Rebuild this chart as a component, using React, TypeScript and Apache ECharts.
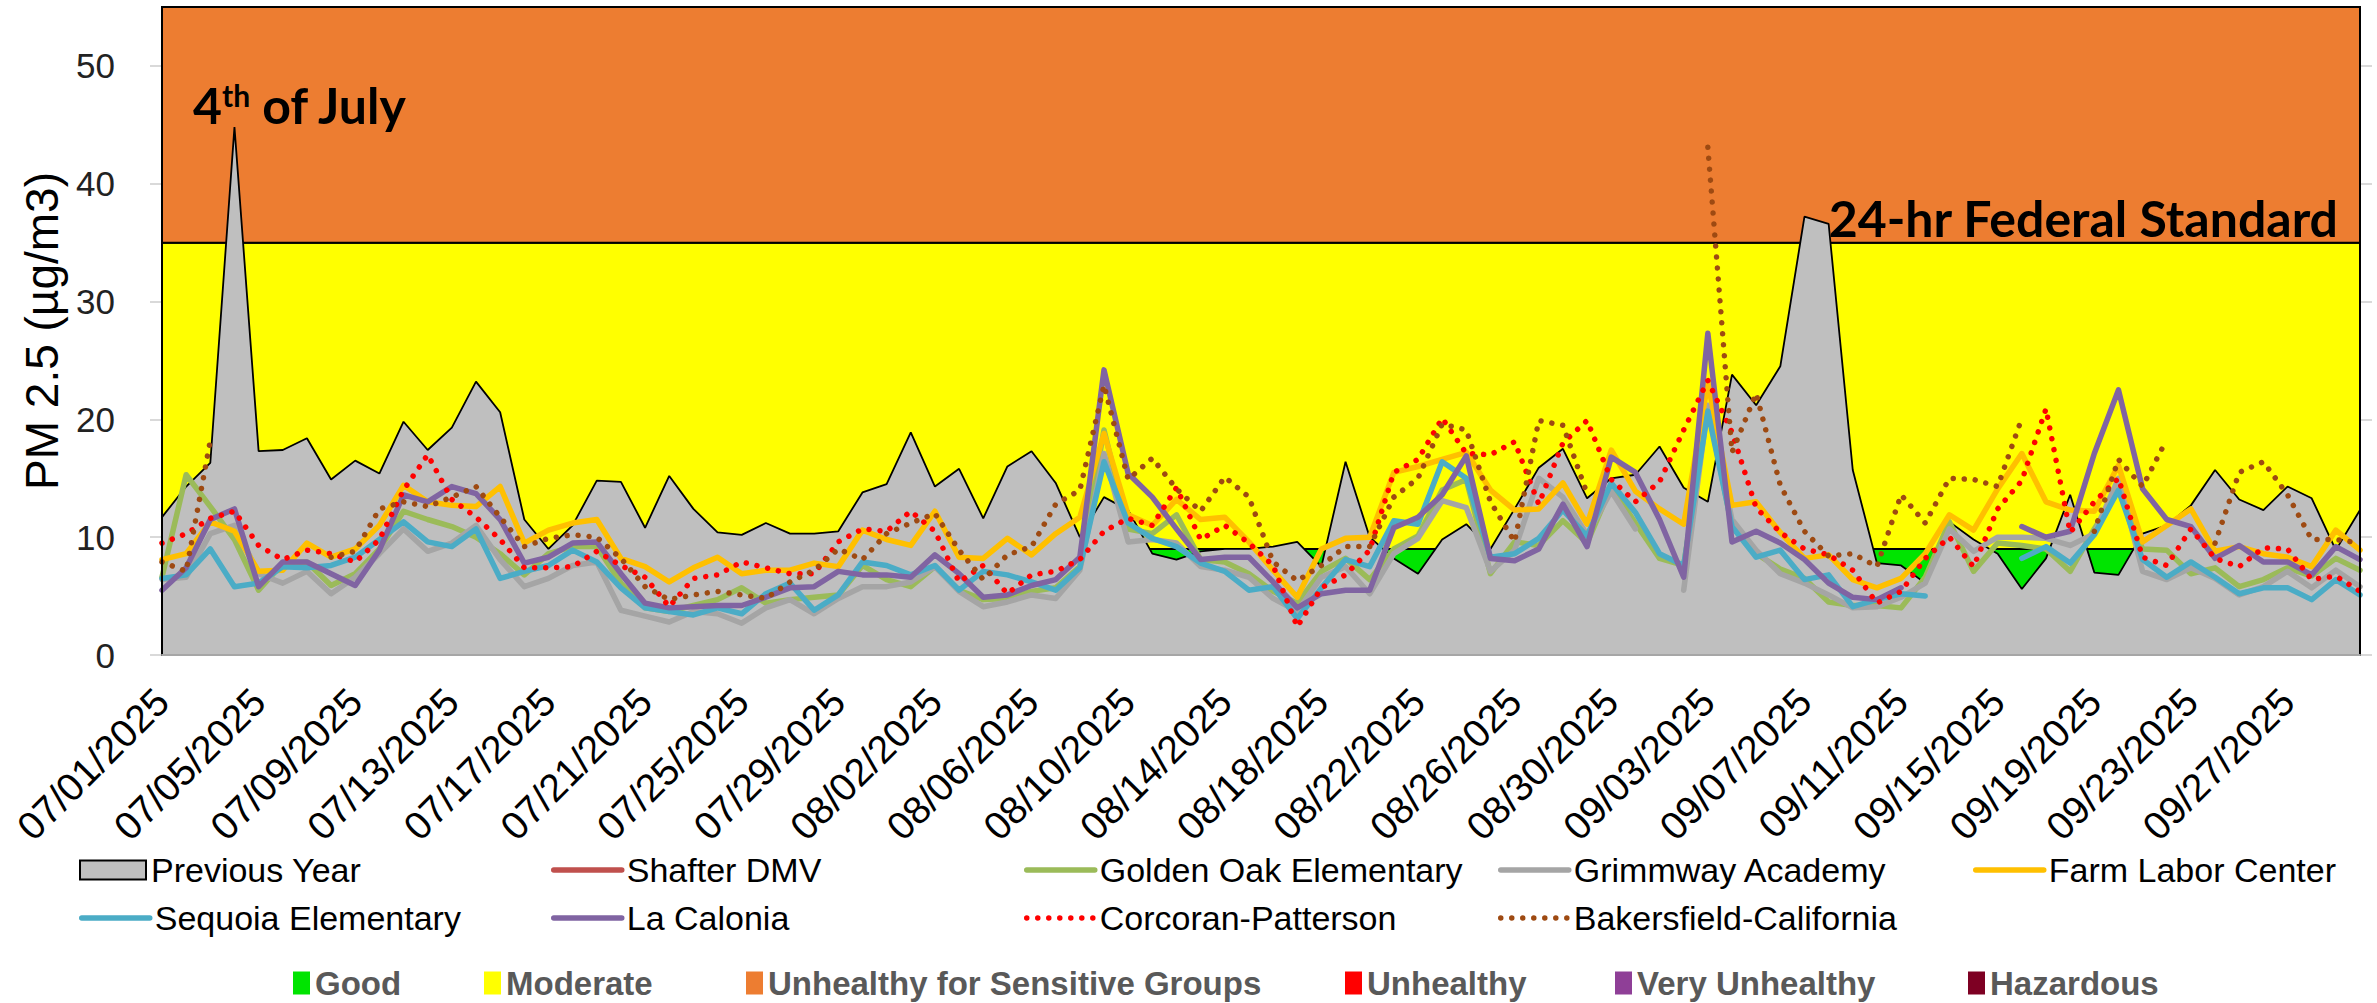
import React, { useEffect, useRef } from 'react';
import * as echarts from 'echarts';

// ---------- categories ----------
const MONTHS: [string, number][] = [['07', 31], ['08', 31], ['09', 30]];
const DATES: string[] = MONTHS.flatMap(([m, n]) =>
  Array.from({ length: n }, (_, i) => `${m}/${String(i + 1).padStart(2, '0')}/2025`)
);

// ---------- axis ticks ----------
const Y_TICKS = [0, 10, 20, 30, 40, 50];
const Y_MAX = 55;

// ---------- AQI thresholds (µg/m3) ----------
const AQI_NAMES = ['Good', 'Moderate', 'Unhealthy for Sensitive Groups', 'Unhealthy', 'Very Unhealthy', 'Hazardous'];
const AQI_LIMITS = [0, 9, 35, 55];

// ---------- series values ----------
const PREVIOUS_YEAR = [
  11.7, 14.3, 16.3, 44.8, 17.3, 17.4, 18.4, 14.9, 16.5, 15.4, 19.8, 17.4, 19.3, 23.2, 20.6, 11.5, 9.0,
  11.0, 14.8, 14.7, 10.8, 15.2, 12.4, 10.4, 10.2, 11.2, 10.3, 10.3, 10.5, 13.8, 14.5, 18.9, 14.3, 15.8,
  11.6, 16.0, 17.3, 14.6, 10.0, 13.4, 12.3, 8.6, 8.1, 8.8, 9.0, 9.0, 9.2, 9.6, 7.5, 16.4, 10.0,
  8.2, 6.9, 9.8, 11.1, 9.0, 12.4, 15.9, 17.5, 13.3, 15.0, 15.3, 17.7, 14.2, 13.0, 23.8, 21.2, 24.5,
  37.2, 36.6, 15.7, 7.8, 7.6, 6.1, 11.3, 9.8, 8.6, 5.6, 8.2, 13.6, 7.0, 6.8, 10.3, 11.0, 12.7, 15.7, 13.2, 12.3, 14.3, 13.3, 8.9, 12.3,
];
const SHAFTER_DMV: (number | null)[] = [];
const GOLDEN_OAK = [
  6.6, 15.3, 12.6, 9.8, 5.5, 7.8, 7.9, 5.9, 6.9, 9.0, 12.2, 11.5, 10.9, 10.0, 8.6, 6.8, 8.6,
  9.2, 9.2, 6.1, 4.0, 3.7, 4.2, 4.7, 5.7, 4.4, 4.7, 4.9, 5.1, 7.6, 6.4, 5.8, 7.5, 5.5,
  4.7, 4.8, 5.4, 5.7, 7.5, 19.1, 10.7, 10.3, 11.9, 8.1, 7.9, 6.9, 5.4, 4.4, 7.1, 8.2, 6.4,
  9.0, 10.1, 14.0, 14.9, 6.9, 9.6, 9.3, 11.4, 9.5, 14.3, 11.2, 8.2, 7.6, 21.0, 10.9, 8.6, 7.3,
  6.5, 4.5, 4.2, 4.2, 4.0, 6.6, 11.3, 7.1, 9.5, 9.3, 9.0, 7.1, 10.7, 14.0, 9.0, 8.9, 6.9, 7.4, 5.8, 6.4, 7.4, 6.7, 8.2, 7.2,
];
const GRIMMWAY = [
  6.4, 6.6, 10.3, 11.0, 6.9, 6.1, 7.1, 5.2, 6.6, 8.6, 10.7, 8.8, 9.5, 11.0, 8.1, 5.8, 6.5,
  7.6, 7.9, 3.8, 3.3, 2.8, 3.7, 3.5, 2.7, 4.0, 4.7, 3.5, 4.8, 5.8, 5.8, 6.2, 7.5, 5.4,
  4.1, 4.5, 5.1, 4.8, 7.2, 17.1, 9.6, 9.8, 9.5, 7.5, 7.2, 6.6, 4.8, 3.7, 6.6, 7.5, 5.2,
  8.6, 9.9, 13.1, 12.5, 7.1, 8.9, 15.0, 13.4, 10.2, 13.9, 10.7, null, 5.5, 21.2, 11.5, 8.9, 6.9,
  6.1, 5.1, 4.0, 4.1, 4.9, 6.1, 10.7, 8.8, 10.0, 10.0, 9.9, 9.3, 10.3, 15.0, 7.1, 6.4, 7.4, 6.5, 5.1, 5.8, 7.1, 5.7, 7.2, 5.8,
];
const FARM_LABOR = [
  8.1, 8.6, 11.3, 10.5, 7.1, 7.2, 9.5, 8.3, 9.0, 11.0, 14.4, 13.0, 12.7, 12.6, 14.3, 9.5, 10.6,
  11.2, 11.5, 8.2, 7.5, 6.2, 7.4, 8.3, 6.9, 7.2, 7.2, 7.8, 7.5, 10.6, 9.8, 9.3, 12.2, 8.3,
  8.2, 9.9, 8.5, 10.3, 11.7, 18.8, 11.9, 11.0, 13.2, 11.5, 11.7, 9.6, 7.2, 4.9, 9.0, 9.9, 10.0,
  15.5, 16.0, 16.6, 17.2, 14.0, 12.3, 12.4, 14.6, 11.1, 17.4, 13.9, 12.4, 11.1, 23.1, 12.7, 13.0, 10.4,
  8.2, 8.5, 6.4, 5.7, 6.5, 8.6, 11.9, 10.6, 14.1, 17.1, 13.0, 12.3, 12.2, 16.1, 9.6, 11.0, 12.4, 8.8, 9.2, 8.6, 8.3, 7.5, 10.6, 8.9,
];
const SEQUOIA = [
  6.5, 6.8, 9.0, 5.8, 6.1, 7.5, 7.4, 7.6, 8.3, 9.8, 11.3, 9.6, 9.2, 10.7, 6.5, 7.1, 7.6,
  8.9, 7.9, 5.7, 4.0, 3.7, 3.4, 4.0, 3.5, 5.2, 6.1, 3.8, 5.1, 7.9, 7.6, 6.8, 7.6, 5.5,
  7.1, 6.8, 6.2, 5.5, 7.4, 16.4, 11.2, 9.9, 9.2, 7.8, 7.1, 5.5, 5.8, 3.1, 5.7, 8.1, 7.5,
  11.4, 11.1, 16.4, 15.0, 8.3, 8.6, 9.9, 12.3, 10.1, 14.6, 12.1, 8.6, 7.6, 20.7, 10.9, 8.3, 8.9,
  6.4, 6.8, 4.1, 4.7, 5.2, 5.0, null, null, null, 8.2, 9.2, 7.8, 10.2, 14.0, 8.1, 6.6, 7.9, 6.6, 5.2, 5.7, 5.7, 4.7, 6.4, 5.1,
];
const LA_CALONIA = [
  5.5, 7.4, 11.5, 12.4, 5.8, 7.9, 7.9, 6.9, 5.9, 8.9, 13.6, 13.0, 14.3, 13.7, 11.5, 7.8, 8.3,
  9.5, 9.6, 6.9, 4.4, 4.0, 4.1, 4.2, 4.2, 4.9, 5.7, 5.8, 7.1, 6.8, 6.8, 6.6, 8.5, 6.9,
  4.9, 5.1, 5.9, 6.4, 8.3, 24.2, 15.4, 13.4, 10.7, 8.1, 8.3, 8.3, 6.2, 4.0, 5.2, 5.5, 5.5,
  10.8, 11.7, 13.6, 16.9, 8.2, 8.0, 9.0, 12.8, 9.2, 16.8, 15.5, 11.5, 6.6, 27.3, 9.6, 10.5, 9.5,
  8.1, 6.1, 4.9, 4.7, 5.7, null, null, null, null, 10.9, 10.0, 10.5, 17.1, 22.5, 14.1, 11.5, 10.9, 8.2, 9.3, 7.9, 7.9, 6.8, 9.2, 8.1,
];
const CORCORAN = [
  9.5, 10.3, 11.6, 12.2, 9.3, 8.1, 8.9, 8.6, 7.9, 9.8, 14.0, 17.0, 13.2, 11.7, 9.8, 7.4, 7.4,
  7.5, 8.8, 7.6, 6.6, 4.1, 6.5, 6.8, 7.9, 7.4, 6.9, 6.9, 9.6, 10.7, 10.5, 12.2, 10.5, 6.2,
  7.6, 5.2, 6.8, 7.1, 8.1, 10.5, 11.6, 11.0, 14.2, 9.8, 11.0, 9.5, 7.6, 2.4, 5.7, 6.8, 8.9,
  15.5, 16.6, 20.1, 17.1, 17.0, 18.1, 12.8, 18.0, 19.9, 14.9, 13.0, 14.7, 19.1, 23.3, 18.9, 12.5, 10.4,
  9.0, 8.5, 7.2, 4.4, 5.4, 8.2, 10.0, 7.5, 12.4, 14.8, 20.9, 10.4, 13.0, 15.0, 8.3, 7.6, 10.7, 8.2, 7.5, 9.1, 9.0, 6.4, 6.7, 5.4,
];
const BAKERSFIELD = [
  7.9, 7.1, 18.2, null, null, null, null, 8.3, 8.8, 12.4, 13.0, 12.6, 13.4, 14.3, 11.7, 9.2, 9.9,
  10.2, 10.0, 8.2, 5.8, 4.7, 5.1, 5.4, 5.1, 4.8, 6.2, 7.2, 9.0, 8.1, 10.3, 11.2, 12.0, 8.9,
  6.4, 8.5, 9.2, 12.8, 14.0, 22.9, 14.9, 16.7, 14.1, 12.2, 15.1, 13.4, 7.9, 6.3, 7.6, 9.2, 9.2,
  13.4, 15.0, 19.6, 19.1, 13.0, 9.6, 19.9, 19.5, 13.7, null, null, null, null, 43.1, 17.2, 22.2, 14.4,
  10.5, 8.4, 8.6, 7.5, 13.6, 11.2, 15.0, 14.9, 14.3, 20.1, null, null, 10.5, 16.6, 14.3, 18.3, null, 9.5, 15.5, 16.4, 13.6, 9.8, 9.8, 9.5,
];

// ---------- styles ----------
const FONT = '"Liberation Sans", Arial, sans-serif';
const BOLD_FONT = 'Lato, "Liberation Sans", sans-serif';
const AQI_COLORS = ['#00E400', '#FFFF00', '#ED7D31', '#FF0000', '#8F3F97', '#7E0023'];
const LINE_W = 5.5;

const STATIONS: { name: string; data: (number | null)[]; color: string; dotted: boolean }[] = [
  { name: 'Shafter DMV', data: SHAFTER_DMV, color: '#C0504D', dotted: false },
  { name: 'Golden Oak Elementary', data: GOLDEN_OAK, color: '#9BBB59', dotted: false },
  { name: 'Grimmway Academy', data: GRIMMWAY, color: '#A5A5A5', dotted: false },
  { name: 'Farm Labor Center', data: FARM_LABOR, color: '#FFC000', dotted: false },
  { name: 'Sequoia Elementary', data: SEQUOIA, color: '#4BACC6', dotted: false },
  { name: 'La Calonia', data: LA_CALONIA, color: '#8064A2', dotted: false },
  { name: 'Corcoran-Patterson', data: CORCORAN, color: '#FF0000', dotted: true },
  { name: 'Bakersfield-California', data: BAKERSFIELD, color: '#9E4A12', dotted: true },
];

const lineStyleFor = (color: string, dotted: boolean) =>
  dotted
    ? { color, width: LINE_W, type: [0.01, 11], cap: 'round' }
    : { color, width: LINE_W, type: 'solid', cap: 'round', join: 'round' };

// legend layout
const COL_LEFT = [79, 551, 1024, 1498, 1973];
const ROW_TOP = [853, 901];
const AQI_LEFT = [293, 484, 746, 1345, 1615, 1968];
const AQI_TOP = 966;

function buildOption() {
  const series: any[] = [];

  series.push({
    name: 'Previous Year',
    type: 'line',
    data: PREVIOUS_YEAR,
    symbol: 'none',
    z: 2,
    lineStyle: { color: '#000', width: 1.8 },
    areaStyle: { color: '#BFBFBF', opacity: 1 },
    itemStyle: { color: '#BFBFBF' },
    emphasis: { disabled: true },
    markArea: {
      silent: true,
      z: 1,
      label: { show: false },
      itemStyle: { borderColor: '#000', borderWidth: 2 },
      data: AQI_LIMITS.slice(0, 3).map((lo, i) => [
        { yAxis: lo, itemStyle: { color: AQI_COLORS[i], borderColor: '#000', borderWidth: 2 } },
        { yAxis: AQI_LIMITS[i + 1] },
      ]),
    },
    markLine: {
      silent: true,
      symbol: 'none',
      label: { show: false },
      lineStyle: { color: '#000', width: 2, type: 'solid' },
      data: [{ xAxis: DATES[0] }, { xAxis: DATES[DATES.length - 1] }],
    },
  });

  STATIONS.forEach((s) => {
    series.push({
      name: s.name,
      type: 'line',
      data: s.data,
      symbol: 'none',
      showSymbol: false,
      connectNulls: false,
      z: 3,
      lineStyle: lineStyleFor(s.color, s.dotted),
      itemStyle: { color: s.color },
      emphasis: { disabled: true },
    });
  });

  AQI_NAMES.forEach((name, i) => {
    series.push({ name, type: 'line', data: [], symbol: 'none', itemStyle: { color: AQI_COLORS[i] }, lineStyle: { width: 0 } });
  });

  const legendText = { fontSize: 34, fontFamily: FONT, color: '#000' };
  const legends: any[] = [];
  legends.push({
    data: [{ name: 'Previous Year', icon: 'rect', itemStyle: { color: '#BFBFBF', borderColor: '#000', borderWidth: 2 } }],
    left: COL_LEFT[0], top: ROW_TOP[0], padding: 0, itemWidth: 66, itemHeight: 19, selectedMode: false, textStyle: legendText,
  });
  STATIONS.forEach((s, i) => {
    const slot = i + 1;
    const row = slot < 5 ? 0 : 1;
    const col = slot < 5 ? slot : slot - 5;
    legends.push({
      data: [{
        name: s.name,
        itemStyle: { color: 'rgba(0,0,0,0)', borderWidth: 0, opacity: 0 },
        lineStyle: lineStyleFor(s.color, s.dotted),
      }],
      left: COL_LEFT[col], top: ROW_TOP[row], padding: 0, itemWidth: 68, itemHeight: 20, selectedMode: false, textStyle: legendText,
    });
  });
  AQI_NAMES.forEach((name, i) => {
    legends.push({
      data: [{ name, icon: 'rect', itemStyle: { color: AQI_COLORS[i], borderWidth: 0 } }],
      left: AQI_LEFT[i], top: AQI_TOP, padding: 0, itemWidth: 17, itemHeight: 23, selectedMode: false,
      textStyle: { fontSize: 33, lineHeight: 34, fontFamily: FONT, fontWeight: 'bold', color: '#595959' },
    });
  });

  return {
    animation: false,
    textStyle: { fontFamily: FONT },
    grid: { left: 162, right: 17, top: 7, bottom: 348, containLabel: false },
    xAxis: {
      type: 'category',
      data: DATES,
      boundaryGap: false,
      z: 10,
      axisLine: { show: true, lineStyle: { color: '#A6A6A6', width: 2 } },
      axisTick: { show: false },
      splitLine: { show: false },
      axisLabel: {
        interval: 3,
        rotate: 45,
        margin: 40,
        fontSize: 39,
        fontFamily: FONT,
        color: '#000',
      },
    },
    yAxis: [
      {
        type: 'value',
        min: 0,
        max: Y_MAX,
        interval: 10,
        name: 'PM 2.5 (µg/m3)',
        nameLocation: 'middle',
        nameRotate: 90,
        nameGap: 96,
        nameTextStyle: { fontSize: 46, fontFamily: FONT, color: '#000' },
        axisLine: { show: false },
        axisTick: { show: true, length: 12, lineStyle: { color: '#D9D9D9', width: 2 }, customValues: Y_TICKS },
        axisLabel: { margin: 47, fontSize: 35, fontFamily: FONT, color: '#222', customValues: Y_TICKS },
        splitLine: { show: false },
      },
      {
        type: 'value',
        position: 'right',
        min: 0,
        max: Y_MAX,
        interval: 10,
        axisLine: { show: false },
        axisTick: { show: true, length: 12, lineStyle: { color: '#D9D9D9', width: 2 }, customValues: Y_TICKS },
        axisLabel: { show: false },
        splitLine: { show: false },
      },
    ],
    legend: legends,
    series,
    graphic: [
      {
        type: 'text',
        x: 193,
        y: 80,
        z: 100,
        style: {
          text: '{a|4}{s|th}{a| of July}',
          verticalAlign: 'top',
          rich: {
            a: { fontSize: 50, fontWeight: 'bold', fontFamily: BOLD_FONT, fill: '#000' },
            s: { fontSize: 30, fontWeight: 'bold', fontFamily: BOLD_FONT, fill: '#000', verticalAlign: 'top' },
          },
        },
      },
      {
        type: 'text',
        x: 2338,
        y: 243,
        z: 100,
        style: {
          text: '24-hr Federal Standard',
          fontSize: 50,
          fontWeight: 'bold',
          fontFamily: BOLD_FONT,
          fill: '#000',
          align: 'right',
          verticalAlign: 'bottom',
        },
      },
    ],
  };
}

export default function App() {
  const ref = useRef<HTMLDivElement>(null);
  useEffect(() => {
    document.body.style.margin = '0';
    if (!ref.current) return;
    const chart = echarts.init(ref.current, undefined, { renderer: 'svg' });
    chart.setOption(buildOption() as any);
    return () => chart.dispose();
  }, []);
  return <div ref={ref} style={{ width: 2377, height: 1003, background: '#fff' }} />;
}
